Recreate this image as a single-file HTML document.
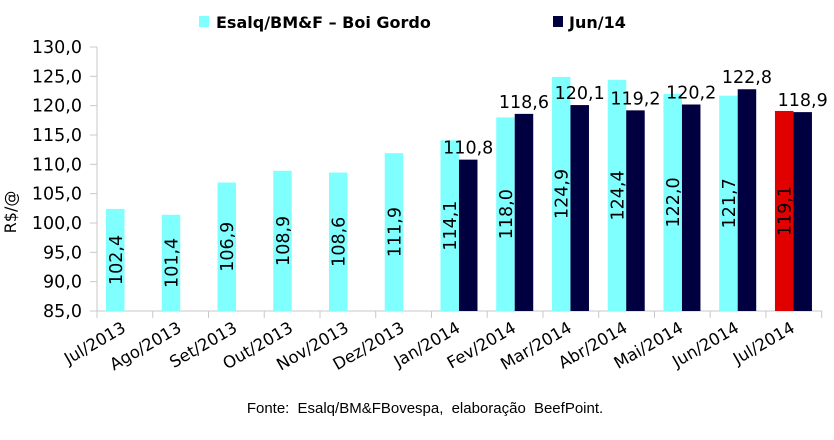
<!DOCTYPE html>
<html><head><meta charset="utf-8"><style>body{margin:0;background:#fff}svg{display:block}</style></head><body>
<svg width="834" height="440" xmlns="http://www.w3.org/2000/svg" font-family="DejaVu Sans, Verdana, sans-serif">
<rect x="199" y="16" width="10" height="11" fill="#80ffff"/>
<text x="216" y="28" font-size="16" font-weight="bold">Esalq/BM&amp;F – Boi Gordo</text>
<rect x="553" y="16" width="10" height="11" fill="#000040"/>
<text x="569" y="28" font-size="16" font-weight="bold">Jun/14</text>
<text transform="translate(16,212) rotate(-90)" font-size="16" text-anchor="middle">R$/@</text>
</svg>
<script>
var s=document.querySelector('svg'),ns='http://www.w3.org/2000/svg';
function e(t,a,txt){var n=document.createElementNS(ns,t);for(var k in a)n.setAttribute(k,a[k]);if(txt)n.textContent=txt;s.appendChild(n);return n;}
var y0=311,ppu=264/45,x0=97,cw=724.7/13;
function Y(v){return y0-(v-85)*ppu;}
e('line',{x1:x0,y1:47,x2:x0,y2:y0,stroke:'#c8c8c8','stroke-width':1});
e('line',{x1:x0,y1:y0,x2:822,y2:y0,stroke:'#c8c8c8','stroke-width':1});
for(var v=85;v<=130;v+=5){var y=Y(v);e('line',{x1:90,y1:y,x2:x0,y2:y,stroke:'#c8c8c8'});e('text',{x:82,y:y+6,'font-size':17.5,'text-anchor':'end'},v.toFixed(1).replace('.',','));}
var L=['Jul/2013','Ago/2013','Set/2013','Out/2013','Nov/2013','Dez/2013','Jan/2014','Fev/2014','Mar/2014','Abr/2014','Mai/2014','Jun/2014','Jul/2014'];
var A=[102.4,101.4,106.9,108.9,108.6,111.9,114.1,118.0,124.9,124.4,122.0,121.7,119.1];
var B=[0,0,0,0,0,0,110.8,118.6,120.1,119.2,120.2,122.8,118.9];
for(var i=0;i<=13;i++){var x=x0+i*cw;e('line',{x1:x,y1:y0,x2:x,y2:y0+7,stroke:'#c8c8c8'});}
for(var i=0;i<13;i++){var cx=x0+i*cw;
var xa=cx+9,w=18.5,ya=Y(A[i]);
e('rect',{x:xa,y:ya,width:w,height:y0-ya,fill:i==12?'#e00000':'#80ffff'});
var my=(ya+y0)/2;
e('text',{transform:'translate('+(xa+w/2+6.5)+','+my+') rotate(-90)','font-size':17.5,'text-anchor':'middle'},A[i].toFixed(1).replace('.',','));
if(B[i]){var xb=cx+27.5,yb=Y(B[i]);e('rect',{x:xb,y:yb,width:w,height:y0-yb,fill:'#000040'});
e('text',{x:xb+w/2,y:yb-6,'font-size':17.5,'text-anchor':'middle'},B[i].toFixed(1).replace('.',','));}
e('text',{transform:'translate('+(cx+cw/2+2)+',331) rotate(-30)','font-size':16.5,'text-anchor':'end'},L[i]);
}
e('text',{x:425,y:413,'font-size':15,'text-anchor':'middle','font-family':'Liberation Sans, Arial, sans-serif','word-spacing':4},'Fonte: Esalq/BM&FBovespa, elaboração BeefPoint.');
</script>
</body></html>
